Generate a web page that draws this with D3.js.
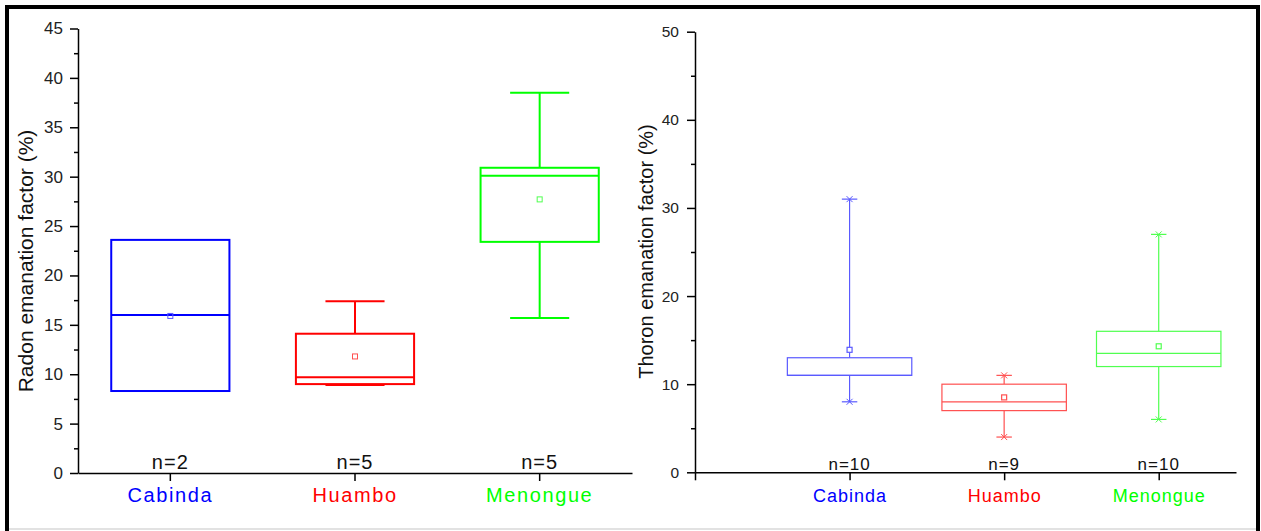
<!DOCTYPE html>
<html>
<head>
<meta charset="utf-8">
<script src="https://cdn.jsdelivr.net/npm/d3@7"></script>
<style>
  html, body { margin: 0; padding: 0; background: #fff; }
  svg { display: block; font-family: "Liberation Sans", Arial, sans-serif; }
</style>
</head>
<body>
<svg id="chart" width="1261" height="531"></svg>
<script>
// ---------- data ----------
const categories = ["Cabinda", "Huambo", "Menongue"];
const catColors = ["#0000ff", "#ff0000", "#00ff00"];
const catColorsLight = ["#5a5aff", "#ff5050", "#50ff50"];

// Radon emanation factor (%)
const radonN = [2, 5, 5];
const radonLow = [null, 8.9, 15.7];
const radonQ1 = [8.3, 9.0, 23.4];
const radonMedian = [16.0, 9.7, 30.1];
const radonQ3 = [23.6, 14.1, 30.9];
const radonHigh = [null, 17.4, 38.5];
const radonMean = [15.9, 11.8, 27.7];
const radonTicks = [0, 5, 10, 15, 20, 25, 30, 35, 40, 45];
const radonMinorTicks = [2.5, 7.5, 12.5, 17.5, 22.5, 27.5, 32.5, 37.5, 42.5];

// Thoron emanation factor (%)
const thoronN = [10, 9, 10];
const thoronLow = [8, 4, 6];
const thoronQ1 = [11, 7, 12];
const thoronMedian = [11, 8, 13.5];
const thoronQ3 = [13, 10, 16];
const thoronHigh = [31, 11, 27];
const thoronMean = [13.9, 8.5, 14.3];
const thoronTicks = [0, 10, 20, 30, 40, 50];
const thoronMinorTicks = [5, 15, 25, 35, 45];
const thoronXTicks = [0, 1, 2, 3];

// ---------- drawing ----------
const svg = d3.select("#chart");

// frame
svg.append("line").attr("x1", 5).attr("x2", 1260).attr("y1", 7).attr("y2", 7)
  .attr("stroke", "#000").attr("stroke-width", 4);
svg.append("line").attr("x1", 7).attr("x2", 7).attr("y1", 5).attr("y2", 531)
  .attr("stroke", "#000").attr("stroke-width", 4);
svg.append("line").attr("x1", 1258).attr("x2", 1258).attr("y1", 5).attr("y2", 531)
  .attr("stroke", "#000").attr("stroke-width", 4);
svg.append("line").attr("x1", 9).attr("x2", 1256).attr("y1", 529).attr("y2", 529)
  .attr("stroke", "#e2e2e2").attr("stroke-width", 2);

function styleAxis(g) {
  g.selectAll("path.domain").attr("stroke", "#000").attr("stroke-width", 1.5);
  g.selectAll(".tick line").attr("stroke", "#000").attr("stroke-width", 1.5);
  g.selectAll(".tick text").attr("fill", "#222");
}

// ===== Left panel (Radon) =====
const yL = d3.scaleLinear().domain([0, 45]).range([473, 28.5]);
const xL = d3.scaleBand().domain(categories).range([78, 632]).padding(0);
const bwL = xL.bandwidth() * 0.64;

// y axis
const gyL = svg.append("g").attr("transform", "translate(78,0)")
  .call(d3.axisLeft(yL).tickValues(radonTicks).tickSize(8).tickSizeOuter(0).tickPadding(7));
styleAxis(gyL);
gyL.selectAll(".tick text").attr("font-size", 17);
svg.append("g").attr("transform", "translate(78,0)")
  .call(d3.axisLeft(yL).tickValues(radonMinorTicks).tickSize(4).tickFormat(""))
  .call(g => { g.select(".domain").remove(); g.selectAll("line").attr("stroke", "#000").attr("stroke-width", 1.5); });

// x axis
const gxL = svg.append("g").attr("transform", "translate(0,473)")
  .call(d3.axisBottom(xL).tickSize(8).tickSizeOuter(0).tickPadding(0));
styleAxis(gxL);
gxL.selectAll(".tick text")
  .attr("font-size", 20).attr("letter-spacing", "1.6px")
  .attr("dy", 0).attr("y", 29)
  .attr("fill", (d, i) => catColors[i]);

// y label
svg.append("text")
  .attr("transform", "translate(33,261) rotate(-90)")
  .attr("text-anchor", "middle").attr("font-size", 21).attr("fill", "#111")
  .text("Radon emanation factor (%)");

// boxes
categories.forEach((c, i) => {
  const cx = xL(c) + xL.bandwidth() / 2;
  const col = catColors[i];
  const g = svg.append("g");
  if (radonHigh[i] !== null) {
    g.append("line").attr("x1", cx).attr("x2", cx).attr("y1", yL(radonQ3[i])).attr("y2", yL(radonHigh[i]))
      .attr("stroke", col).attr("stroke-width", 2);
    g.append("line").attr("x1", cx - bwL / 4).attr("x2", cx + bwL / 4).attr("y1", yL(radonHigh[i])).attr("y2", yL(radonHigh[i]))
      .attr("stroke", col).attr("stroke-width", 2);
  }
  if (radonLow[i] !== null) {
    g.append("line").attr("x1", cx).attr("x2", cx).attr("y1", yL(radonQ1[i])).attr("y2", yL(radonLow[i]))
      .attr("stroke", col).attr("stroke-width", 2);
    g.append("line").attr("x1", cx - bwL / 4).attr("x2", cx + bwL / 4).attr("y1", yL(radonLow[i])).attr("y2", yL(radonLow[i]))
      .attr("stroke", col).attr("stroke-width", 2);
  }
  g.append("rect").attr("x", cx - bwL / 2).attr("width", bwL)
    .attr("y", yL(radonQ3[i])).attr("height", yL(radonQ1[i]) - yL(radonQ3[i]))
    .attr("fill", "none").attr("stroke", col).attr("stroke-width", 2);
  g.append("line").attr("x1", cx - bwL / 2).attr("x2", cx + bwL / 2)
    .attr("y1", yL(radonMedian[i])).attr("y2", yL(radonMedian[i]))
    .attr("stroke", col).attr("stroke-width", 2);
  g.append("rect").attr("x", cx - 2.5).attr("y", yL(radonMean[i]) - 2.5).attr("width", 5).attr("height", 5)
    .attr("fill", "none").attr("stroke", catColorsLight[i]).attr("stroke-width", 1);
  svg.append("text").attr("x", cx).attr("y", 469).attr("text-anchor", "middle")
    .attr("font-size", 20).attr("letter-spacing", "1px").attr("fill", "#111")
    .text("n=" + radonN[i]);
});

// ===== Right panel (Thoron) =====
const yR = d3.scaleLinear().domain([0, 50]).range([472.3, 31.7]);
const xR = d3.scaleLinear().domain([0, 3.5]).range([695, 1236]);
const unitR = xR(1) - xR(0);
const bwR = unitR * 0.805;
const capR = unitR * 0.1;

const gyR = svg.append("g").attr("transform", "translate(695,0)")
  .call(d3.axisLeft(yR).tickValues(thoronTicks).tickSize(8).tickSizeOuter(0).tickPadding(8));
styleAxis(gyR);
gyR.selectAll(".tick text").attr("font-size", 15.5);
svg.append("g").attr("transform", "translate(695,0)")
  .call(d3.axisLeft(yR).tickValues(thoronMinorTicks).tickSize(4).tickFormat(""))
  .call(g => { g.select(".domain").remove(); g.selectAll("line").attr("stroke", "#000").attr("stroke-width", 1.5); });

const gxR = svg.append("g").attr("transform", "translate(0,472.3)")
  .call(d3.axisBottom(xR).tickValues(thoronXTicks).tickSize(8).tickSizeOuter(0).tickPadding(0)
    .tickFormat(d => d >= 1 ? categories[d - 1] : ""));
styleAxis(gxR);
gxR.selectAll(".tick text")
  .attr("font-size", 18).attr("letter-spacing", "1px")
  .attr("dy", 0).attr("y", 29.5)
  .attr("fill", d => d >= 1 ? catColors[d - 1] : "none");

svg.append("text")
  .attr("transform", "translate(653,251.5) rotate(-90)")
  .attr("text-anchor", "middle").attr("font-size", 20).attr("fill", "#111")
  .text("Thoron emanation factor (%)");

function xMark(g, x, y, col) {
  const s = 3;
  g.append("path").attr("d", `M${x - s},${y - s}L${x + s},${y + s}M${x - s},${y + s}L${x + s},${y - s}`)
    .attr("stroke", col).attr("stroke-width", 1);
}

categories.forEach((c, i) => {
  const cx = xR(i + 1);
  const col = catColorsLight[i];
  const g = svg.append("g");
  g.append("line").attr("x1", cx).attr("x2", cx).attr("y1", yR(thoronQ3[i])).attr("y2", yR(thoronHigh[i]))
    .attr("stroke", col).attr("stroke-width", 1.2);
  g.append("line").attr("x1", cx).attr("x2", cx).attr("y1", yR(thoronQ1[i])).attr("y2", yR(thoronLow[i]))
    .attr("stroke", col).attr("stroke-width", 1.2);
  [thoronHigh[i], thoronLow[i]].forEach(v => {
    g.append("line").attr("x1", cx - capR / 2).attr("x2", cx + capR / 2).attr("y1", yR(v)).attr("y2", yR(v))
      .attr("stroke", col).attr("stroke-width", 1.2);
    xMark(g, cx, yR(v), col);
  });
  g.append("rect").attr("x", cx - bwR / 2).attr("width", bwR)
    .attr("y", yR(thoronQ3[i])).attr("height", yR(thoronQ1[i]) - yR(thoronQ3[i]))
    .attr("fill", "#fff").attr("stroke", col).attr("stroke-width", 1.2);
  g.append("line").attr("x1", cx - bwR / 2).attr("x2", cx + bwR / 2)
    .attr("y1", yR(thoronMedian[i])).attr("y2", yR(thoronMedian[i]))
    .attr("stroke", col).attr("stroke-width", 1.2);
  g.append("rect").attr("x", cx - 2.5).attr("y", yR(thoronMean[i]) - 2.5).attr("width", 5).attr("height", 5)
    .attr("fill", "#fff").attr("stroke", col).attr("stroke-width", 1.2);
  svg.append("text").attr("x", cx).attr("y", 470).attr("text-anchor", "middle")
    .attr("font-size", 17).attr("letter-spacing", "1px").attr("fill", "#111")
    .text("n=" + thoronN[i]);
});
</script>
</body>
</html>
